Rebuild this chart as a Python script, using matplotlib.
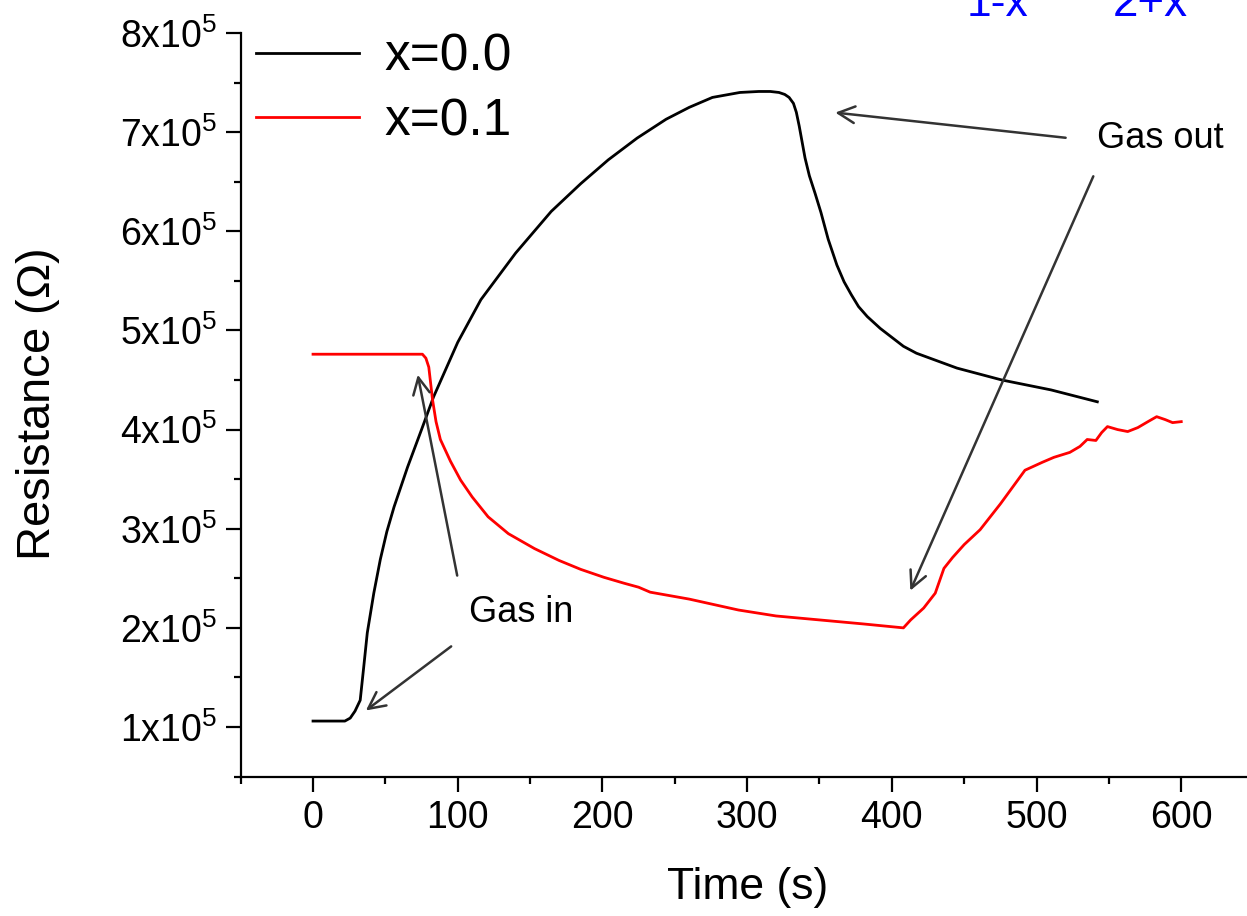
import numpy as np
import matplotlib
matplotlib.use('Agg')
import matplotlib.pyplot as plt
from matplotlib.ticker import MultipleLocator, FuncFormatter

plt.rcParams['font.family'] = ['Liberation Sans', 'DejaVu Sans']
plt.rcParams['mathtext.fontset'] = 'custom'
plt.rcParams['mathtext.rm'] = 'Liberation Sans'

# x=0.0 sample (black)
t0 = [0, 10, 22, 25.7, 29, 32.6, 35, 37.5, 42, 46.5, 51, 56, 65.3, 75, 83.3,
      100, 116, 140, 164.6, 185, 204, 224, 244, 260, 276, 295, 308, 316, 322,
      326, 329, 332, 334, 336, 338, 340, 343, 347, 351, 356, 362, 367, 372,
      377, 383, 392, 400, 408, 417, 445, 476, 510, 542]
r0 = [1.06, 1.06, 1.06, 1.09, 1.16, 1.27, 1.60, 1.95, 2.35, 2.69, 2.97, 3.22,
      3.62, 4.00, 4.33, 4.88, 5.31, 5.78, 6.20, 6.48, 6.72, 6.94, 7.13, 7.25,
      7.35, 7.40, 7.41, 7.41, 7.40, 7.38, 7.35, 7.29, 7.20, 7.06, 6.90, 6.74,
      6.56, 6.38, 6.19, 5.92, 5.66, 5.49, 5.36, 5.24, 5.14, 5.02, 4.93, 4.84,
      4.77, 4.62, 4.50, 4.40, 4.28]

# x=0.1 sample (red)
t1 = [0, 20, 40, 60, 75.6, 78, 80, 82.6, 85, 88, 95, 102, 110, 121, 135, 153,
      170, 185, 201, 215, 225, 233, 260, 294, 320, 350, 380, 408, 413, 422,
      430, 436, 442, 450, 461, 475, 492, 498, 504, 512, 523, 530, 535, 541,
      545, 549, 556, 563, 570, 577, 583, 589, 594, 600]
r1 = [4.76, 4.76, 4.76, 4.76, 4.76, 4.72, 4.63, 4.30, 4.08, 3.90, 3.68, 3.49,
      3.32, 3.12, 2.95, 2.80, 2.68, 2.59, 2.51, 2.45, 2.41, 2.36, 2.29, 2.18,
      2.12, 2.08, 2.04, 2.00, 2.08, 2.20, 2.35, 2.60, 2.71, 2.84, 2.99, 3.25,
      3.59, 3.63, 3.67, 3.72, 3.77, 3.83, 3.90, 3.89, 3.97, 4.03, 4.00, 3.98,
      4.02, 4.08, 4.13, 4.10, 4.07, 4.08]

fig = plt.figure(figsize=(12.47, 9.16), dpi=100)
ax = fig.add_axes([0.193, 0.1522, 0.8123, 0.8118])

ln1 = ax.plot(t0, np.array(r0) * 1e5, color='black', lw=2, label='x=0.0')
ln2 = ax.plot(t1, np.array(r1) * 1e5, color='red', lw=2, label='x=0.1')

ax.set_xlim(-50, 650)
ax.set_ylim(0.5e5, 8e5)
ax.xaxis.set_major_locator(MultipleLocator(100))
ax.xaxis.set_minor_locator(MultipleLocator(50))
ax.yaxis.set_major_locator(MultipleLocator(1e5))
ax.yaxis.set_minor_locator(MultipleLocator(0.5e5))
ax.yaxis.set_major_formatter(FuncFormatter(
    lambda v, p: r'$\mathregular{%dx10^{5}}$' % round(v / 1e5)))

for s in ['top', 'right']:
    ax.spines[s].set_visible(False)
for s in ['left', 'bottom']:
    ax.spines[s].set_linewidth(1.6)
ax.tick_params(which='major', direction='out', length=11, width=1.6, labelsize=27, pad=6)
ax.tick_params(which='minor', direction='out', length=5, width=1.6)

ax.set_xlabel('Time (s)', fontsize=32, labelpad=22)
ax.set_ylabel(r'Resistance ($\Omega$)', fontsize=34, labelpad=42)

ax.legend(loc='upper left', bbox_to_anchor=(0.015, 1.0), frameon=False,
          fontsize=37, handlelength=2.0, handletextpad=0.5, labelspacing=0.3,
          borderpad=0, borderaxespad=0)

arr = dict(arrowstyle='->', color='#333333', lw=1.8, mutation_scale=30)
ax.annotate('', xy=(359, 7.20e5), xytext=(522, 6.94e5), arrowprops=arr)
ax.annotate('', xy=(412, 2.35e5), xytext=(540, 6.58e5), arrowprops=arr)
ax.annotate('', xy=(72, 4.58e5), xytext=(100, 2.50e5), arrowprops=arr)
ax.annotate('', xy=(35, 1.15e5), xytext=(97, 1.83e5), arrowprops=arr)
ax.text(542, 6.94e5, 'Gas out', fontsize=26, va='center', ha='left')
ax.text(108, 2.15e5, 'Gas in', fontsize=26, va='center', ha='left')

# formula subscripts cut by the top edge
fig.text(967 / 1247, 1 - 16 / 916, '1-x', color='blue', fontsize=32, va='baseline')
fig.text(1113 / 1247, 1 - 16 / 916, '2+x', color='blue', fontsize=33, va='baseline')

fig.savefig('out.png', dpi=100)
